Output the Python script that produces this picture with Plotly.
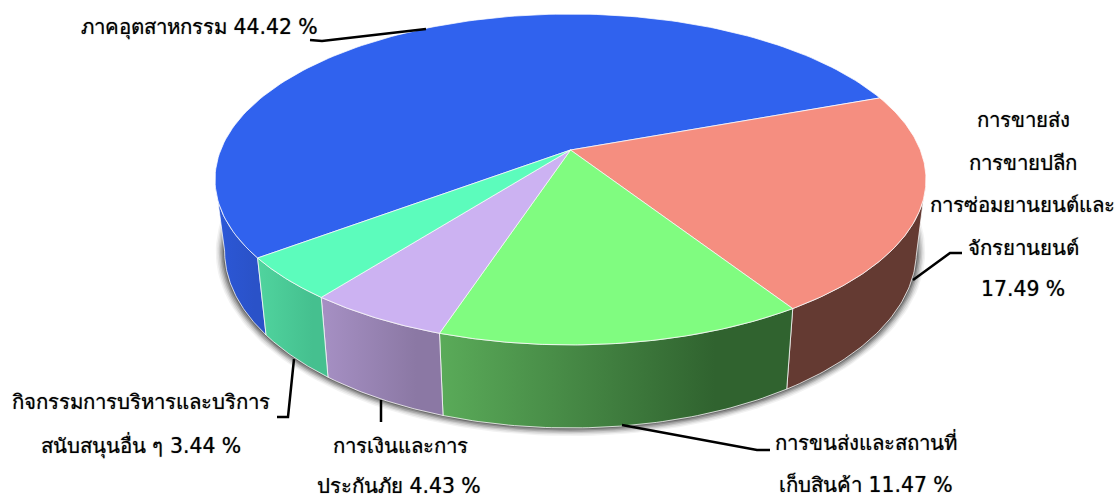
import numpy as np
import plotly.graph_objects as go

# ---- data ----
categories = ["ภาคอุตสาหกรรม", "การขายส่ง การขายปลีก การซ่อมยานยนต์และจักรยานยนต์",
              "การขนส่งและสถานที่เก็บสินค้า", "การเงินและการประกันภัย",
              "กิจกรรมการบริหารและบริการสนับสนุนอื่น ๆ"]
values = [44.42, 17.49, 11.47, 4.43, 3.44]
top_colors = ["#3062EE", "#F58E80", "#80FC80", "#CCB2F2", "#5CFCBC"]
side_left = ["#2C58D8", "#643A32", "#5AAB59", "#A690C4", "#50D49E"]
side_right = ["#2A52C8", "#643A32", "#30632F", "#8B78A4", "#45C08F"]

# ---- projection of the disc (perspective) ----
CX, CY = 570.5, 150.0
A, B, K = 349.8, 160.2, 0.178
SHRINK_X, SHRINK_Y, DROP = 0.973, 1.069, 69.6
START = 217.0  # slices run clockwise from here


def rim(deg, bottom=False, grow=0.0, dy=0.0):
    t = np.radians(deg)
    X, Y = np.cos(t), -np.sin(t)
    w = 1 - K * Y
    x, y = A * X / w, B * Y / w
    if bottom:
        x, y = x * SHRINK_X, y * SHRINK_Y + DROP
    x = CX + x + grow * np.cos(t)
    y = CY + y + grow * 0.9 * -np.sin(t) + dy
    return x, y


total = sum(values)
spans = [v / total * 360 for v in values]
edges = START - np.concatenate([[0], np.cumsum(spans)])
VIS_A, VIS_B = 180 + np.degrees(np.arcsin(K)), 360 - np.degrees(np.arcsin(K))

fig = go.Figure()

# soft shadow below the body
all_deg = np.linspace(0, 360, 241)
for g, alpha in [(9, .05), (7.5, .07), (6, .10), (4.5, .14), (3, .18), (1.5, .24)]:
    sx, sy = rim(all_deg, True, g, 0)
    fig.add_trace(go.Scatter(x=sx, y=sy, mode="lines", fill="toself", line=dict(width=0),
                             fillcolor=f"rgba(0,0,0,{alpha})", hoverinfo="skip", showlegend=False))

# side walls
for i in range(len(values)):
    a, b = edges[i + 1], edges[i]
    for lo, hi in [(a, b), (a + 360, b + 360), (a - 360, b - 360)]:
        l, h = max(lo, VIS_A), min(hi, VIS_B)
        if h <= l:
            continue
        d = np.linspace(l, h, 60)
        xt, yt = rim(d)
        xb, yb = rim(d, True)
        fig.add_trace(go.Scatter(
            x=np.concatenate([xt, xb[::-1], xt[:1]]), y=np.concatenate([yt, yb[::-1], yt[:1]]),
            mode="lines", fill="toself", line=dict(color="rgba(255,255,255,0.75)", width=1),
            fillgradient=dict(type="horizontal",
                              colorscale=[[0, side_left[i]], [0.78, side_right[i]], [1, side_right[i]]]),
            hoverinfo="skip", showlegend=False))

# top face
for i in range(len(values)):
    d = np.linspace(edges[i + 1], edges[i], 150)
    xt, yt = rim(d)
    fig.add_trace(go.Scatter(
        x=np.concatenate([[CX], xt, [CX]]), y=np.concatenate([[CY], yt, [CY]]),
        mode="lines", fill="toself", fillcolor=top_colors[i],
        line=dict(color="rgba(255,255,255,0.75)", width=1),
        hoverinfo="skip", showlegend=False))

# ---- labels, one annotation per text line ----
label_lines = [
    (f"{categories[0]} {values[0]:.2f} %", 199, 27),
    ("การขายส่ง", 1023, 120),
    ("การขายปลีก", 1023, 163),
    ("การซ่อมยานยนต์และ", 1022, 205),
    ("จักรยานยนต์", 1023, 248),
    (f"{values[1]:.2f} %", 1023, 289),
    ("การขนส่งและสถานที่", 866, 442),
    (f"เก็บสินค้า {values[2]:.2f} %", 866, 484),
    ("การเงินและการ", 400, 446),
    (f"ประกันภัย {values[3]:.2f} %", 399, 486),
    ("กิจกรรมการบริหารและบริการ", 141, 402),
    (f"สนับสนุนอื่น ๆ {values[4]:.2f} %", 141, 445),
]
annotations = [dict(x=x, y=y, text=t, xref="x", yref="y", showarrow=False, xanchor="center",
                    yanchor="middle",
                    font=dict(family="DejaVu Sans, Noto Sans, sans-serif", size=20.4, color="#000",
                              shadow="0 0 1px rgba(0,0,0,0.6)"))
               for t, x, y in label_lines]

# ---- leader lines ----
leaders = ["M 310 40 L 322 41 L 426 29",
           "M 913 280 L 950 253 L 962 253",
           "M 622 425 L 757 450 L 770 450",
           "M 381 400 L 381 422",
           "M 294 359 L 288 417 L 277 417"]
shapes = [dict(type="path", path=p, xref="x", yref="y", line=dict(color="#000", width=2.5)) for p in leaders]

fig.update_layout(
    width=1116, height=498, margin=dict(l=0, r=0, t=0, b=0),
    paper_bgcolor="white", plot_bgcolor="white", showlegend=False,
    xaxis=dict(range=[0, 1116], visible=False, fixedrange=True),
    yaxis=dict(range=[498, 0], visible=False, fixedrange=True),
    annotations=annotations, shapes=shapes,
)
fig.write_html("out.html", config=dict(displayModeBar=False),
               post_script="document.body.style.margin='0';")
